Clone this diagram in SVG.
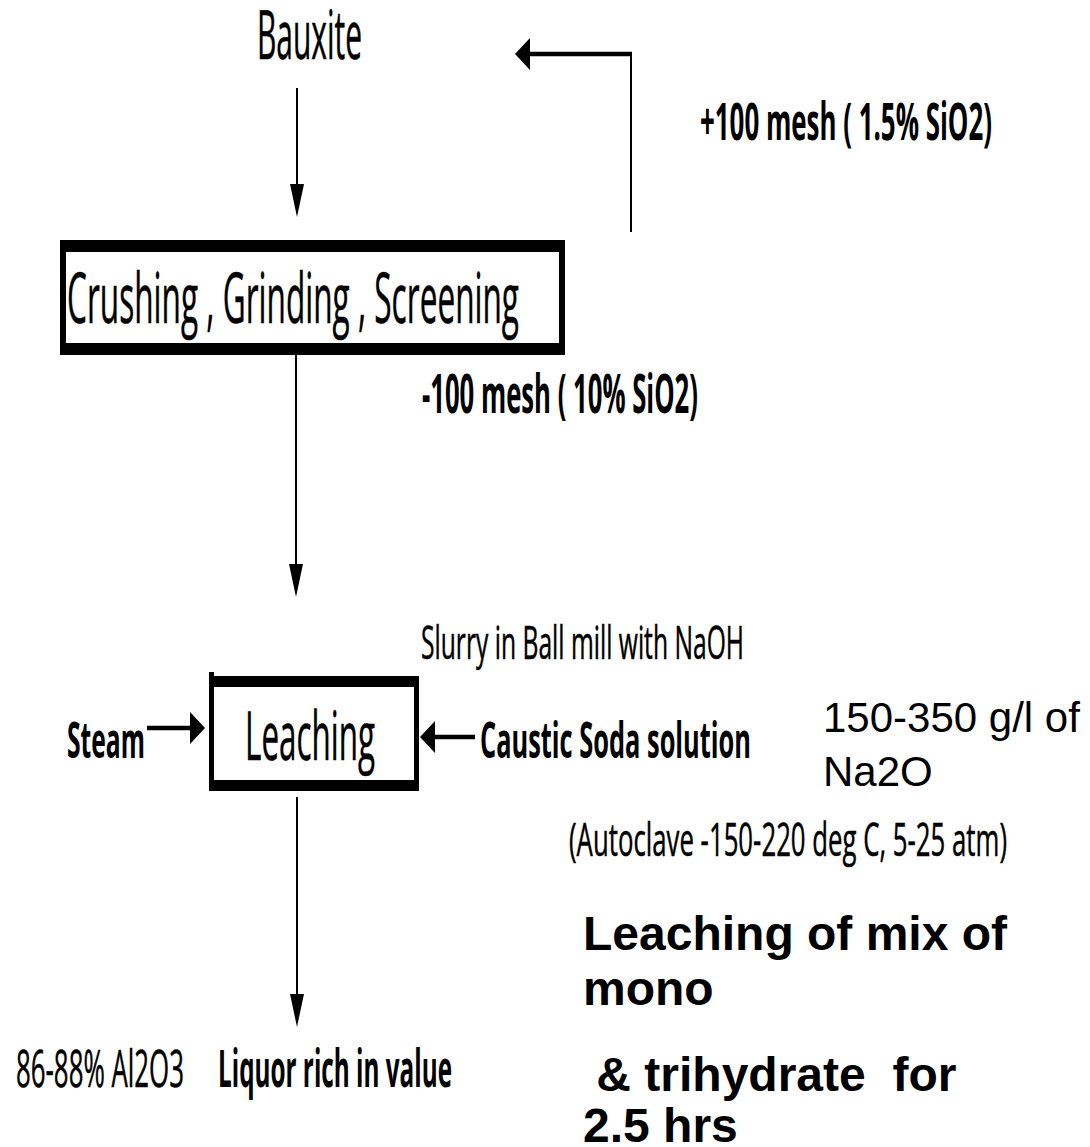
<svg xmlns="http://www.w3.org/2000/svg" width="1090" height="1147" viewBox="0 0 1090 1147">
  <style>
    .cond { font-family: "Open Sans", "Noto Sans", sans-serif; fill: #000; }
    .reg { stroke: #000; stroke-width: 0.5; }
    .b { font-weight: 700; }
    .arial { font-family: "Liberation Sans", Arial, sans-serif; fill: #000; }
    .thin { stroke: #000; stroke-width: 2; fill: none; }
    .thick { stroke: #000; stroke-width: 4.5; fill: none; }
    .bar, .head { fill: #000; }
  </style>

  <rect width="1090" height="1147" fill="#fff"/>

  <g id="bauxite">
    <text class="cond reg" x="257" y="59" font-size="68" textLength="105" lengthAdjust="spacingAndGlyphs">Bauxite</text>
  </g>

  <g id="crushing">
    <rect class="bar" x="60" y="240" width="505" height="12"/>
    <rect class="bar" x="60" y="343" width="505" height="12"/>
    <rect class="bar" x="60" y="240" width="6" height="115"/>
    <rect class="bar" x="559" y="240" width="6" height="115"/>
    <text class="cond reg" x="67" y="323" font-size="70" textLength="452" lengthAdjust="spacingAndGlyphs">Crushing , Grinding , Screening</text>
  </g>

  <g id="oversize-label">
    <text class="cond b" x="700" y="140" font-size="52" textLength="292" lengthAdjust="spacingAndGlyphs">+100 mesh ( 1.5% SiO2)</text>
  </g>

  <g id="undersize-label">
    <text class="cond b" x="422" y="413" font-size="54" textLength="276" lengthAdjust="spacingAndGlyphs">-100 mesh ( 10% SiO2)</text>
  </g>

  <g id="slurry-label">
    <text class="cond reg" x="421" y="659" font-size="45" textLength="323" lengthAdjust="spacingAndGlyphs">Slurry in Ball mill with NaOH</text>
  </g>

  <g id="leaching">
    <rect class="bar" x="209" y="676" width="210" height="11"/>
    <rect class="bar" x="209" y="780" width="210" height="11"/>
    <rect class="bar" x="209" y="672" width="5" height="119"/>
    <rect class="bar" x="414" y="676" width="5" height="115"/>
    <text class="cond reg" x="245" y="760" font-size="68" textLength="130" lengthAdjust="spacingAndGlyphs">Leaching</text>
  </g>

  <g id="steam">
    <text class="cond b" x="67" y="758" font-size="50" textLength="78" lengthAdjust="spacingAndGlyphs">Steam</text>
  </g>

  <g id="caustic">
    <text class="cond b" x="480" y="758" font-size="50" textLength="271" lengthAdjust="spacingAndGlyphs">Caustic Soda solution</text>
  </g>

  <g id="na2o-note">
    <text class="arial" x="823" y="732" font-size="42">150-350 g/l of</text>
    <text class="arial" x="823" y="786" font-size="42">Na2O</text>
  </g>

  <g id="autoclave-note">
    <text class="cond reg" x="569" y="856" font-size="45" textLength="438" lengthAdjust="spacingAndGlyphs">(Autoclave -150-220 deg C, 5-25 atm)</text>
  </g>

  <g id="leach-note">
    <text class="arial b" x="583" y="950" font-size="48">Leaching of mix of</text>
    <text class="arial b" x="583" y="1005" font-size="48">mono</text>
    <text class="arial b" x="583" y="1091" font-size="48" xml:space="preserve"> &amp; trihydrate  for</text>
    <text class="arial b" x="583" y="1142" font-size="48">2.5 hrs</text>
  </g>

  <g id="product">
    <text class="cond reg" x="16" y="1087" font-size="52" textLength="168" lengthAdjust="spacingAndGlyphs">86-88% Al2O3</text>
    <text class="cond b" x="218" y="1087" font-size="52" textLength="234" lengthAdjust="spacingAndGlyphs">Liquor rich in value</text>
  </g>

  <g id="connectors">
    <!-- main flow, top to bottom -->
    <line class="thin" x1="297" y1="88" x2="297" y2="186"/>
    <polygon class="head" points="290,184 304,184 297,217"/>
    <line class="thin" x1="296" y1="355" x2="296" y2="566"/>
    <polygon class="head" points="289,564 303,564 296,597"/>
    <line class="thin" x1="297" y1="797" x2="297" y2="996"/>
    <polygon class="head" points="290,994 304,994 297,1027"/>
    <!-- oversize return loop -->
    <line class="thin" x1="631" y1="232" x2="631" y2="54"/>
    <line class="thick" x1="632" y1="54" x2="526" y2="54"/>
    <polygon class="head" points="515,54 530,38 530,70"/>
    <!-- side feeds into leaching -->
    <line class="thick" x1="147" y1="728" x2="193" y2="728"/>
    <polygon class="head" points="205,728 190,712 190,744"/>
    <line class="thick" x1="475" y1="737" x2="432" y2="737"/>
    <polygon class="head" points="420,737 435,721 435,753"/>
  </g>
</svg>
